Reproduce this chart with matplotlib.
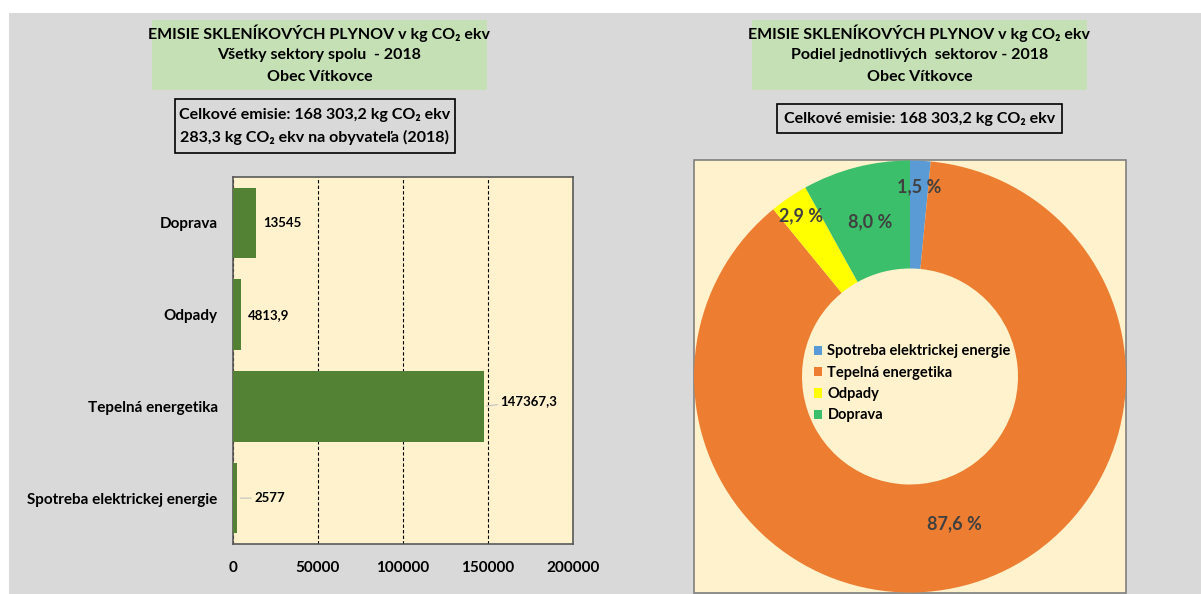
import matplotlib.pyplot as plt
import numpy as np
from matplotlib.patches import Rectangle, Patch

# %% ---- data ------------------------
sectors = ["Spotreba elektrickej energie", "Tepelná energetika", "Odpady", "Doprava"]
emissions = [2577, 147367.3, 4813.9, 13545]
bar_labels = ["2577", "147367,3", "4813,9", "13545"]
pie_colors = ["#5b9bd5", "#ed7d31", "#ffff00", "#3cbf6b"]
x_ticks = [0, 50000, 100000, 150000, 200000]

title_left = ["EMISIE SKLENÍKOVÝCH PLYNOV v kg CO\u2082 ekv",
              "Všetky sektory spolu  - 2018", "Obec Vítkovce"]
title_right = ["EMISIE SKLENÍKOVÝCH PLYNOV v kg CO\u2082 ekv",
               "Podiel jednotlivých  sektorov - 2018", "Obec Vítkovce"]
info_left = ["Celkové emisie: 168 303,2 kg CO\u2082 ekv",
             "283,3 kg CO\u2082 ekv na obyvateľa (2018)"]
info_right = ["Celkové emisie: 168 303,2 kg CO\u2082 ekv"]

# %% ---- style ------------------------
plt.rcParams['font.family'] = ['Lato', 'DejaVu Sans']
plt.rcParams['font.weight'] = 'bold'
GRAY = "#d9d9d9"
CREAM = "#fff2cc"
GREEN_BOX = "#c5e0b4"
BAR_GREEN = "#548235"

W, H = 1201, 594
fig = plt.figure(figsize=(W / 100, H / 100), dpi=100, facecolor="white")


def px_rect(x0, y0, x1, y1):
    """pixel box (top-left origin) -> figure fraction rect"""
    return [x0 / W, 1 - y1 / H, (x1 - x0) / W, (y1 - y0) / H]


def fx(x):
    return x / W


def fy(y):
    return 1 - y / H


# gray background panel
fig.patches.append(Rectangle((fx(9), 0), 1 - fx(9), fy(13), transform=fig.transFigure,
                             facecolor=GRAY, edgecolor="none", zorder=-10))


def text_box(x0, y0, x1, y1, lines, face, edge, line_ys, size=11.5):
    fig.patches.append(Rectangle((fx(x0), fy(y1)), fx(x1) - fx(x0), fy(y0) - fy(y1),
                                 transform=fig.transFigure, facecolor=face,
                                 edgecolor=edge, linewidth=1.2 if edge != "none" else 0,
                                 zorder=-5))
    for line, yy in zip(lines, line_ys):
        fig.text(fx((x0 + x1) / 2), fy(yy), line, ha="center", va="center",
                 fontsize=size, fontweight="bold", color="black")


text_box(152, 20, 487, 90, title_left, GREEN_BOX, "none", [33, 55, 77])
text_box(752, 20, 1087, 90, title_right, GREEN_BOX, "none", [33, 55, 77])
text_box(175, 99, 455, 153, info_left, GRAY, "black", [115, 137])
text_box(777, 104, 1062, 133, info_right, GRAY, "black", [119])
# cream frame behind the donut
text_box(694, 160, 1126, 593, [], CREAM, "#7f7f7f", [])

# %% ---- bar chart ------------------------
ax = fig.add_axes(px_rect(233, 177, 573, 544))
ax.set_facecolor(CREAM)
y = np.arange(len(sectors))
ax.barh(y, emissions, height=0.77, color=BAR_GREEN, zorder=3)
ax.set_xlim(0, 200000)
ax.set_ylim(-0.5, len(sectors) - 0.5)
ax.set_yticks(y)
ax.set_yticklabels(sectors, fontsize=11, fontweight="bold")
ax.set_xticks(x_ticks)
ax.set_xticklabels([str(t) for t in x_ticks], fontsize=11, fontweight="bold")
ax.tick_params(axis="y", length=0, pad=11)
ax.tick_params(axis="x", length=0, pad=12)
ax.grid(axis="x", color="black", linestyle=(0, (3, 2)), linewidth=0.8, zorder=1)
for s in ax.spines.values():
    s.set_color("#595959")
    s.set_linewidth(1.2)

for yi, val, lab in zip(y, emissions, bar_labels):
    leader = lab in ("147367,3", "2577")
    ax.annotate(lab, xy=(val, yi), xytext=(12 if leader else 5, 4 if val > 100000 else 0),
                textcoords="offset points", ha="left", va="center",
                fontsize=9.5, fontweight="bold", color="black",
                arrowprops=dict(arrowstyle="-", color="#bfbfbf", lw=0.8,
                                shrinkA=0, shrinkB=2) if leader else None)

# %% ---- donut chart ------------------------
ax2 = fig.add_axes(px_rect(694, 160, 1126, 593))
wedges, _ = ax2.pie(emissions, colors=pie_colors, startangle=90, counterclock=False,
                    radius=1.0, wedgeprops=dict(width=0.5, edgecolor="none"))
ax2.set_aspect("equal", adjustable="box")
ax2.set_xlim(-1.0, 1.0)
ax2.set_ylim(-1.0, 1.0)
ax2.axis("off")

total = sum(emissions)
label_r = [0.88, 0.71, 0.90, 0.74]
for w, val, r in zip(wedges, emissions, label_r):
    ang = np.deg2rad((w.theta1 + w.theta2) / 2)
    pct = f"{100 * val / total:.1f} %".replace(".", ",")
    ax2.text(r * np.cos(ang), r * np.sin(ang), pct, ha="center", va="center",
             fontsize=13, fontweight="bold", color="#404040")

handles = [Patch(facecolor=c, edgecolor="none") for c in pie_colors]
ax2.legend(handles, sectors, loc="center", bbox_to_anchor=(0.505, 0.484), frameon=False,
           handlelength=0.6, handleheight=0.6, handletextpad=0.35, labelspacing=0.5,
           prop=dict(size=10.5, weight="bold"))

fig.savefig("out.png", dpi=100, facecolor=fig.get_facecolor())
